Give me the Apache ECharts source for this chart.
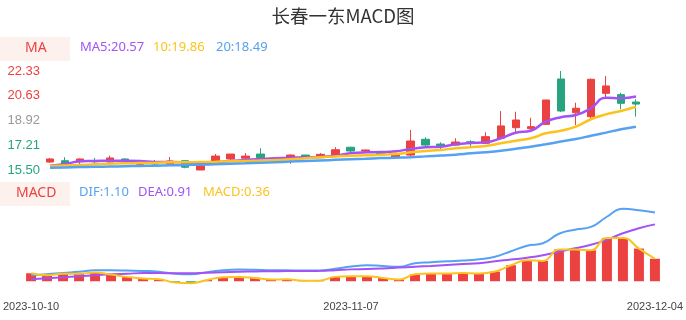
<!DOCTYPE html>
<html><head><meta charset="utf-8">
<script src="https://cdn.jsdelivr.net/npm/echarts@6/dist/echarts.min.js"></script>
<style>html,body{margin:0;padding:0;background:#fff}#c{width:686px;height:320px}</style>
</head><body><div id="c"></div>
<script>
const dates = ['2023-10-10','2023-10-11','2023-10-12','2023-10-13','2023-10-16','2023-10-17','2023-10-18','2023-10-19','2023-10-20','2023-10-23','2023-10-24','2023-10-25','2023-10-26','2023-10-27','2023-10-30','2023-10-31','2023-11-01','2023-11-02','2023-11-03','2023-11-06','2023-11-07','2023-11-08','2023-11-09','2023-11-10','2023-11-13','2023-11-14','2023-11-15','2023-11-16','2023-11-17','2023-11-20','2023-11-21','2023-11-22','2023-11-23','2023-11-24','2023-11-27','2023-11-28','2023-11-29','2023-11-30','2023-12-01','2023-12-04'];
// [open, close, low, high]
const kline = [
 [16.05,16.26,16.00,16.33],[16.14,15.91,15.84,16.38],[16.07,16.26,15.78,16.29],[16.12,16.07,15.98,16.33],
 [16.05,16.33,15.96,16.49],[16.26,16.05,15.98,16.30],[15.89,16.00,15.85,16.02],[16.05,15.91,15.82,16.19],
 [15.91,16.12,15.89,16.40],[16.14,15.69,15.62,16.14],[15.50,15.80,15.50,15.82],[16.12,16.46,16.12,16.60],
 [16.26,16.60,16.17,16.60],[16.31,16.46,16.21,16.67],[16.60,16.35,16.19,17.00],[16.31,16.19,16.15,16.35],
 [16.31,16.53,15.93,16.58],[16.53,16.35,16.30,16.55],[16.35,16.58,16.33,16.67],[16.53,16.90,16.50,17.07],
 [17.07,16.81,16.69,17.10],[16.81,16.88,16.65,16.90],[16.72,16.60,16.55,16.75],[16.40,16.53,16.35,16.72],
 [16.53,17.50,16.45,18.26],[17.62,17.22,17.11,17.76],[17.29,17.18,16.93,17.41],[17.22,17.43,17.20,17.69],
 [17.45,17.38,17.10,17.55],[17.34,17.80,17.30,18.10],[17.69,18.54,17.60,19.57],[18.42,18.95,18.03,19.52],
 [18.35,18.49,18.26,19.10],[18.65,20.33,18.60,20.33],[21.78,19.57,19.50,22.33],[19.45,19.76,18.60,20.14],
 [19.18,21.76,19.02,21.80],[20.79,21.30,20.45,21.99],[20.70,20.10,19.69,20.83],[20.19,20.05,19.18,20.38]
];
const ma5 = [15.80,15.91,16.10,16.12,16.14,16.14,16.12,16.05,16.05,16.03,15.96,16.03,16.12,16.19,16.26,16.31,16.35,16.38,16.40,16.49,16.65,16.72,16.74,16.79,16.95,17.07,17.11,17.27,17.36,17.41,17.69,18.07,18.21,18.83,19.14,19.29,19.76,20.49,20.45,20.57];
const ma10 = [15.78,15.81,15.84,15.89,15.93,15.96,15.98,16.00,16.03,16.03,16.05,16.07,16.10,16.12,16.16,16.19,16.24,16.31,16.38,16.43,16.49,16.51,16.55,16.60,16.72,16.81,16.88,17.00,17.07,17.16,17.34,17.52,17.69,18.03,18.21,18.49,19.00,19.34,19.57,19.86];
const ma20 = [15.66,15.68,15.70,15.72,15.74,15.76,15.78,15.80,15.82,15.84,15.87,15.90,15.93,15.96,16.00,16.04,16.08,16.12,16.16,16.20,16.24,16.28,16.32,16.35,16.38,16.44,16.50,16.56,16.65,16.73,16.83,16.96,17.11,17.28,17.46,17.64,17.86,18.08,18.31,18.49];
const dif = [0.096,0.112,0.133,0.152,0.176,0.176,0.171,0.165,0.152,0.120,0.112,0.144,0.176,0.187,0.184,0.176,0.176,0.171,0.171,0.200,0.235,0.256,0.243,0.232,0.288,0.304,0.320,0.331,0.352,0.392,0.480,0.568,0.608,0.760,0.824,0.869,1.032,1.160,1.136,1.10];
const dea = [0.032,0.048,0.064,0.080,0.096,0.112,0.120,0.131,0.131,0.128,0.128,0.136,0.144,0.152,0.157,0.160,0.163,0.165,0.166,0.176,0.190,0.195,0.205,0.219,0.232,0.245,0.261,0.275,0.288,0.320,0.347,0.376,0.416,0.472,0.528,0.584,0.664,0.768,0.848,0.91];
const macd = [0.128,0.096,0.120,0.120,0.140,0.107,0.070,0.043,0.032,-0.020,-0.030,0.020,0.064,0.070,0.053,0.027,0.032,0.010,0.010,0.070,0.080,0.080,0.053,0.027,0.112,0.123,0.123,0.133,0.123,0.155,0.256,0.336,0.325,0.507,0.507,0.496,0.693,0.693,0.523,0.36];
const priceTicks = [15.50,17.21,18.92,20.63,22.33];
const showDates = ['2023-10-10','2023-11-07','2023-12-04'];

const RED = '#ec4141', GREEN = '#26a47f', PURPLE = '#a352f5', YELLOW = '#fcc31e', BLUE = '#56a2f2';
const chart = echarts.init(document.getElementById('c'));
const last = a => a[a.length - 1];
const txt = (x, y, s, color) => ({type:'text', left:x, top:y, style:{text:s, fill:color, font:'13px "Noto Sans", sans-serif'}});
chart.setOption({
  animation:false,
  title:{text:'长春一东MACD图', left:'center', top:2, textStyle:{fontSize:18.5, fontWeight:'normal', color:'#333', fontFamily:'"Noto Sans CJK SC", sans-serif'}},
  graphic:[
    {type:'rect', shape:{x:0,y:37,width:70,height:24}, style:{fill:'#fdf1ed'}},
    {type:'text', left:25, top:41, style:{text:'MA', fill:RED, font:'14px "Noto Sans", sans-serif'}},
    txt(80,41,'MA5:'+last(ma5).toFixed(2),PURPLE),
    txt(153,41,'10:'+last(ma10).toFixed(2),YELLOW),
    txt(216,41,'20:'+last(ma20).toFixed(2),BLUE),
    {type:'rect', shape:{x:0,y:182,width:70,height:24}, style:{fill:'#fdf1ed'}},
    {type:'text', left:16, top:186, style:{text:'MACD', fill:RED, font:'14px "Noto Sans", sans-serif'}},
    txt(79,186,'DIF:'+last(dif).toFixed(2),BLUE),
    txt(138,186,'DEA:'+last(dea).toFixed(2),PURPLE),
    txt(203,186,'MACD:'+last(macd).toFixed(2),YELLOW)
  ],
  grid:[
    {left:42.5, right:42.5, top:71, height:99},
    {left:20, right:21, top:205, height:80}
  ],
  xAxis:[
    {type:'category', gridIndex:0, data:dates, boundaryGap:true, show:false},
    {type:'category', gridIndex:1, data:dates, boundaryGap:true,
     axisLine:{show:false}, axisTick:{show:false},
     axisLabel:{margin:16, fontSize:11, color:'#444', interval:(i,v)=>showDates.indexOf(v)>=0, showMinLabel:true, showMaxLabel:true, hideOverlap:false}}
  ],
  yAxis:[
    {type:'value', gridIndex:0, min:15.50, max:22.33, splitLine:{show:false}, axisLine:{show:false}, axisTick:{show:false},
     axisLabel:{customValues:priceTicks, align:'left', margin:35, fontSize:13,
       formatter:v=>v.toFixed(2),
       color:(v)=>{ v=+v; return v>19 ? RED : (v>18.5 ? '#999' : GREEN); }}},
    {type:'value', gridIndex:1, min:-0.06, max:1.22, show:false, splitLine:{show:false}}
  ],
  series:[
    {type:'candlestick', xAxisIndex:0, yAxisIndex:0, data:kline, barWidth:8,
     itemStyle:{color:RED, color0:GREEN, borderColor:RED, borderColor0:GREEN, borderWidth:1}},
    {type:'line', xAxisIndex:0, yAxisIndex:0, data:ma5, smooth:true, symbol:'none', lineStyle:{color:PURPLE, width:2.5}},
    {type:'line', xAxisIndex:0, yAxisIndex:0, data:ma10, smooth:true, symbol:'none', lineStyle:{color:YELLOW, width:2.5}},
    {type:'line', xAxisIndex:0, yAxisIndex:0, data:ma20, smooth:true, symbol:'none', lineStyle:{color:BLUE, width:2.5}},
    {type:'bar', xAxisIndex:1, yAxisIndex:1, data:macd, barWidth:10,
     itemStyle:{color:p=>p.value>=0?RED:GREEN}},
    {type:'line', xAxisIndex:1, yAxisIndex:1, data:dif, smooth:true, symbol:'none', lineStyle:{color:BLUE, width:2}},
    {type:'line', xAxisIndex:1, yAxisIndex:1, data:dea, smooth:true, symbol:'none', lineStyle:{color:PURPLE, width:2}},
    {type:'line', xAxisIndex:1, yAxisIndex:1, data:macd, smooth:true, symbol:'none', lineStyle:{color:YELLOW, width:2}}
  ]
});
</script></body></html>
